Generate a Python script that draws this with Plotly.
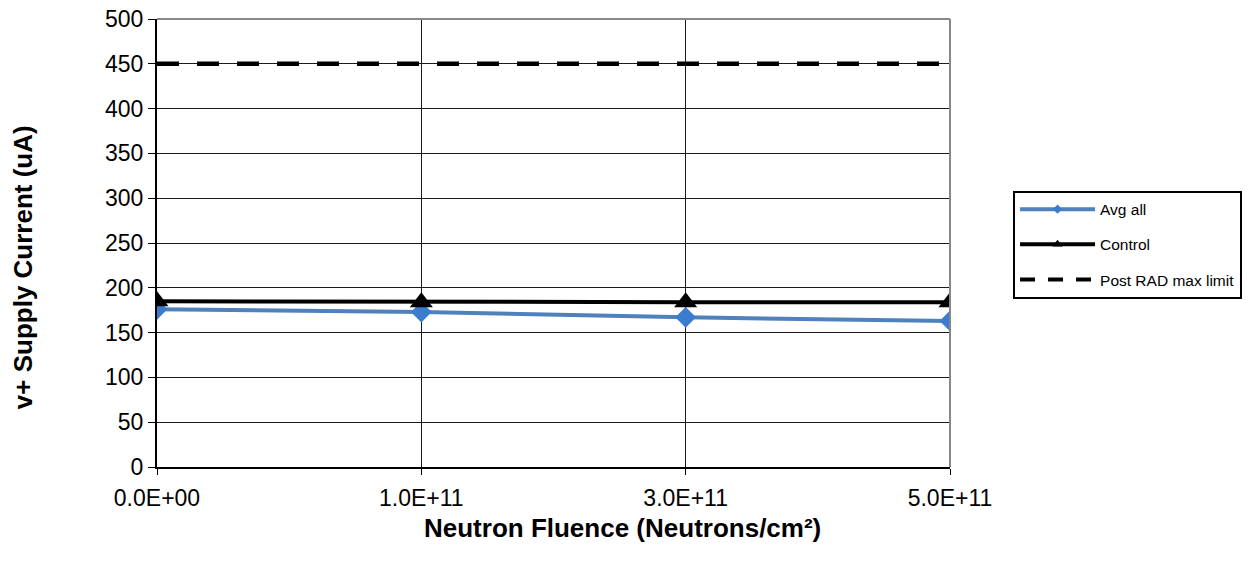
import plotly.graph_objects as go

categories = ["0.0E+00", "1.0E+11", "3.0E+11", "5.0E+11"]
avg_all = [176, 173, 167, 163]
control = [185, 184, 184, 184]
post_rad_limit = [450, 450, 450, 450]
y_ticks = [0, 50, 100, 150, 200, 250, 300, 350, 400, 450, 500]

xi = list(range(len(categories)))
font = "Liberation Sans, Arial, sans-serif"
blue_line = "#4F81BD"
blue_marker = "#3A7DCE"

fig = go.Figure()
# data traces
fig.add_trace(go.Scatter(
    x=xi, y=avg_all, name="Avg all", mode="lines+markers",
    line=dict(color=blue_line, width=4),
    marker=dict(symbol="diamond", size=16, color=blue_marker),
    showlegend=False))
fig.add_trace(go.Scatter(
    x=xi, y=post_rad_limit, name="Post RAD max limit", mode="lines",
    line=dict(color="black", width=4.5, dash="22px,18px"),
    showlegend=False))
fig.add_trace(go.Scatter(
    x=xi, y=control, name="Control", mode="lines+markers",
    line=dict(color="black", width=4),
    marker=dict(symbol="triangle-up", size=20, color="black"),
    showlegend=False))

# legend entries (small markers like the reference legend)
fig.add_trace(go.Scatter(
    x=[None], y=[None], name="Avg all", mode="lines+markers",
    line=dict(color=blue_line, width=4),
    marker=dict(symbol="diamond", size=7, color=blue_marker),
    legendgroup="a", legendrank=1))
fig.add_trace(go.Scatter(
    x=[None], y=[None], name="Control", mode="lines+markers",
    line=dict(color="black", width=4),
    marker=dict(symbol="triangle-up", size=9, color="black"),
    legendgroup="b", legendrank=2))
fig.add_trace(go.Scatter(
    x=[None], y=[None], name="Post RAD max limit", mode="lines",
    line=dict(color="black", width=4, dash="15px,13px"),
    legendgroup="c", legendrank=3))

fig.update_layout(
    width=1249, height=577,
    margin=dict(l=157, r=299, t=19, b=110, autoexpand=False),
    paper_bgcolor="white", plot_bgcolor="white",
    font=dict(family=font, color="black", size=23),
    legend=dict(
        x=1.0795, y=0.617, xanchor="left", yanchor="top",
        bordercolor="black", borderwidth=2, bgcolor="white",
        font=dict(size=15.5, family=font), tracegroupgap=12,
        itemwidth=75, itemsizing="trace", traceorder="grouped"),
    showlegend=True,
)
fig.update_xaxes(
    range=[0, 3], tickmode="array", tickvals=xi, ticktext=categories,
    showgrid=True, gridcolor="#1a1a1a", gridwidth=1,
    showline=True, linecolor="black", linewidth=2,
    ticks="outside", ticklen=6, tickcolor="black",
    zeroline=False, ticklabelstandoff=3, ticklabeloverflow="allow",
    automargin=False, tickfont=dict(size=23),
)
fig.update_yaxes(
    range=[0, 500], tickmode="array", tickvals=y_ticks,
    showgrid=True, gridcolor="#1a1a1a", gridwidth=1,
    showline=True, linecolor="black", linewidth=2,
    ticks="outside", ticklen=7, tickcolor="black",
    zeroline=False, ticklabeloverflow="allow",
    automargin=False, tickfont=dict(size=23),
)
# axis titles (positioned like the reference)
fig.add_annotation(
    text="<b>Neutron Fluence (Neutrons/cm²)</b>", xref="paper", yref="paper",
    x=0.5864, y=-0.136, xanchor="center", yanchor="middle", showarrow=False,
    font=dict(size=26, family=font, color="black"))
fig.add_annotation(
    text="<b>v+ Supply Current (uA)</b>", xref="paper", yref="paper",
    x=-0.169, y=0.446, xanchor="center", yanchor="middle", showarrow=False,
    textangle=-90, font=dict(size=26, family=font, color="black"))
# gray top and right plot border
fig.add_shape(type="line", xref="paper", yref="paper", x0=0, x1=1, y0=1, y1=1,
              line=dict(color="#888888", width=2))
fig.add_shape(type="line", xref="paper", yref="paper", x0=1, x1=1, y0=0, y1=1,
              line=dict(color="#888888", width=2))

fig.write_html("out.html", config={"displayModeBar": False},
               post_script="document.body.style.margin='0';")
